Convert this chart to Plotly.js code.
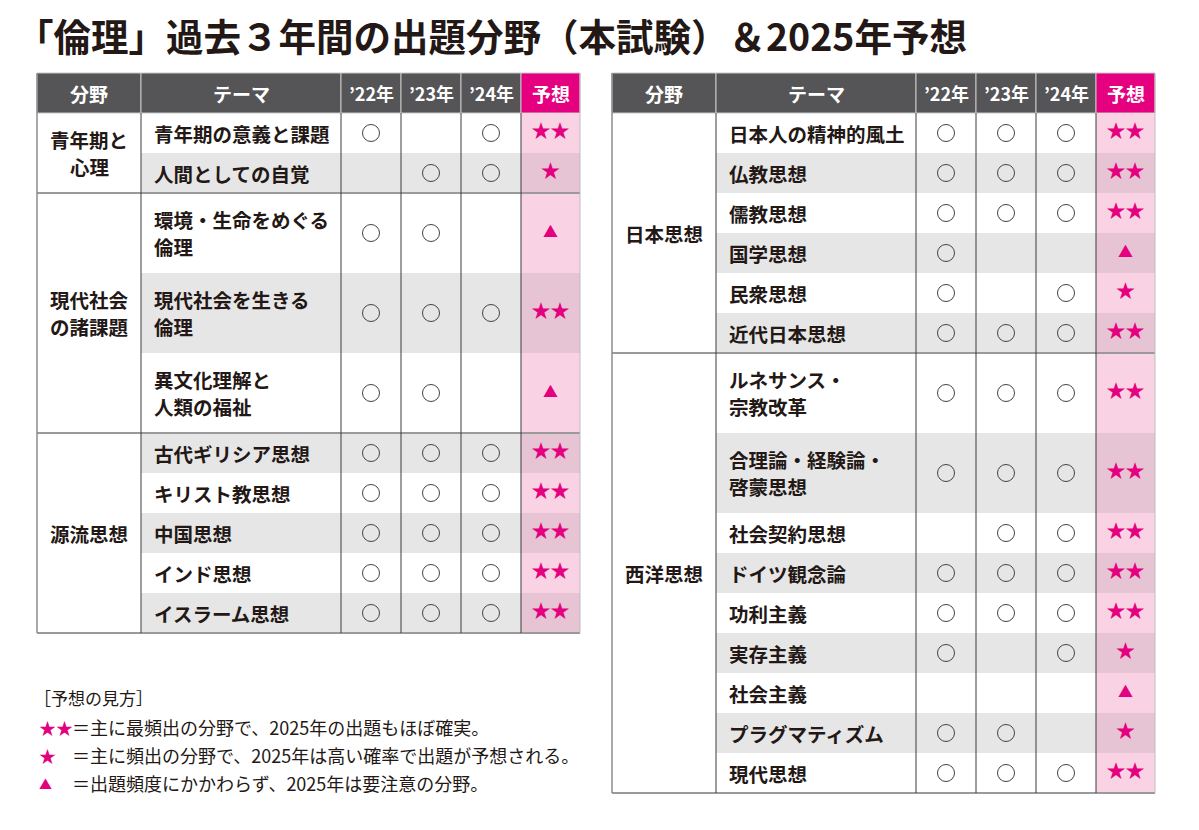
<!DOCTYPE html>
<html>
<head>
<meta charset="utf-8">
<script src="https://cdn.plot.ly/plotly-3.0.1.min.js"></script>
<style>
  html, body { margin: 0; padding: 0; background: #fff; }
  #plot { width: 1199px; height: 830px; }
</style>
</head>
<body>
<div id="plot"></div>
<script>
// --- data ---
const headers = ['分野', 'テーマ', '’22年', '’23年', '’24年', '予想'];

const leftGroups = ['青年期と<br>心理', '現代社会<br>の諸課題', '源流思想'];
const leftThemes = [
	'青年期の意義と課題', '人間としての自覚', '環境・生命をめぐる<br>倫理',
	'現代社会を生きる<br>倫理', '異文化理解と<br>人類の福祉', '古代ギリシア思想',
	'キリスト教思想', '中国思想', 'インド思想', 'イスラーム思想',
];
const leftGroupOf = [0, 0, 1, 1, 1, 2, 2, 2, 2, 2];
const left22 = [1, 0, 1, 1, 1, 1, 1, 1, 1, 1];
const left23 = [0, 1, 1, 1, 1, 1, 1, 1, 1, 1];
const left24 = [1, 1, 0, 1, 0, 1, 1, 1, 1, 1];
const leftForecast = ['★★', '★', '▲', '★★', '▲', '★★', '★★', '★★', '★★', '★★'];

const rightGroups = ['日本思想', '西洋思想'];
const rightThemes = [
	'日本人の精神的風土', '仏教思想', '儒教思想', '国学思想', '民衆思想', '近代日本思想',
	'ルネサンス・<br>宗教改革', '合理論・経験論・<br>啓蒙思想', '社会契約思想', 'ドイツ観念論',
	'功利主義', '実存主義', '社会主義', 'プラグマティズム', '現代思想',
];
const rightGroupOf = [0, 0, 0, 0, 0, 0, 1, 1, 1, 1, 1, 1, 1, 1, 1];
const right22 = [1, 1, 1, 1, 1, 1, 1, 1, 0, 1, 1, 1, 0, 1, 1];
const right23 = [1, 1, 1, 0, 0, 1, 1, 1, 1, 1, 1, 0, 0, 1, 1];
const right24 = [1, 1, 1, 0, 1, 1, 1, 1, 1, 1, 1, 1, 0, 0, 1];
const rightForecast = ['★★', '★★', '★★', '▲', '★', '★★', '★★', '★★', '★★', '★★', '★★', '★', '▲', '★', '★★'];

const legendTitle = '［予想の見方］';
const legendMarks = ['★★', '★', '▲'];
const legendTexts = [
	'＝主に最頻出の分野で、2025年の出題もほぼ確実。',
	'＝主に頻出の分野で、2025年は高い確率で出題が予想される。',
	'＝出題頻度にかかわらず、2025年は要注意の分野。',
];

// --- style ---
const FONT = '"Noto Sans CJK JP", "Noto Sans", sans-serif';
const INK = '#231815';
const MAGENTA = '#e4007f';
const HEAD_BG = '#555456';
const GRAY_ROW = '#e6e6e6';
const PINK = '#f9d3e4';
const PINK_DARK = '#e6c4d4';
const COL_W = [104, 200, 60, 60, 60, 59];
const HEAD_TOP = 73;
const HEAD_H = 40;
const LINE_H = 40;
const TEXT_GAP = 27;

const shapes = [];
const annotations = [];
const traces = [];

// one annotation per text line, stacked round a centre
function addLines(text, x, yMid, xanchor) {
	const lines = text.split('<br>');
	lines.forEach((ln, k) => {
		annotations.push({
			x, y: yMid + (k - (lines.length - 1) / 2) * TEXT_GAP,
			text: '<b>' + ln + '</b>', showarrow: false, xanchor, yanchor: 'middle', borderpad: 0,
			font: {family: FONT, size: 19.5, color: INK},
		});
	});
}

function buildTable(x0, groups, themes, groupOf, y22, y23, y24, forecast) {
	const colX = [x0];
	COL_W.forEach((w) => colX.push(colX[colX.length - 1] + w));
	const colMid = (i) => (colX[i] + colX[i + 1]) / 2;
	const xEnd = colX[colX.length - 1];

	// header
	headers.forEach((h, i) => {
		shapes.push({
			type: 'rect', x0: colX[i], x1: colX[i + 1], y0: HEAD_TOP, y1: HEAD_TOP + HEAD_H,
			fillcolor: i === 5 ? MAGENTA : HEAD_BG, line: {color: '#c8c8c8', width: 1}, layer: 'below',
		});
		annotations.push({
			x: colMid(i), y: HEAD_TOP + HEAD_H / 2, text: '<b>' + h + '</b>', showarrow: false,
			xanchor: 'center', yanchor: 'middle', font: {family: FONT, size: i >= 2 && i <= 4 ? 18 : 19, color: '#fff'},
		});
	});

	// rows
	let y = HEAD_TOP + HEAD_H;
	const rowTop = [];
	const rowMid = [];
	themes.forEach((t, r) => {
		const h = t.split('<br>').length * LINE_H;
		rowTop.push(y);
		rowMid.push(y + h / 2);
		const odd = r % 2 === 1;
		if (odd) {
			shapes.push({
				type: 'rect', x0: colX[1], x1: colX[5], y0: y, y1: y + h,
				fillcolor: GRAY_ROW, line: {width: 0}, layer: 'below',
			});
		}
		shapes.push({
			type: 'rect', x0: colX[5], x1: colX[6], y0: y, y1: y + h,
			fillcolor: odd ? PINK_DARK : PINK, line: {width: 0}, layer: 'below',
		});
		addLines(t, colX[1] + 12, y + h / 2, 'left');
		y += h;
	});
	const yEnd = y;
	rowTop.push(yEnd);

	// group labels and separators
	groups.forEach((g, gi) => {
		const rows = groupOf.map((v, i) => (v === gi ? i : -1)).filter((i) => i >= 0);
		const gTop = rowTop[rows[0]];
		const gBot = rowTop[rows[rows.length - 1] + 1];
		addLines(g, colMid(0), (gTop + gBot) / 2, 'center');
		shapes.push({
			type: 'line', x0: x0, x1: xEnd, y0: gBot, y1: gBot,
			line: {color: '#9a9a9a', width: 2},
		});
	});

	// vertical rules
	for (let i = 1; i <= 5; i++) {
		shapes.push({
			type: 'line', x0: colX[i], x1: colX[i], y0: HEAD_TOP + HEAD_H, y1: yEnd,
			line: {color: '#3c3c3c', width: 1},
		});
	}
	shapes.push({type: 'line', x0: x0, x1: x0, y0: HEAD_TOP, y1: yEnd, line: {color: '#8c8c8c', width: 1.5}});
	shapes.push({type: 'line', x0: xEnd, x1: xEnd, y0: HEAD_TOP, y1: yEnd, line: {color: '#bdbdbd', width: 1}});

	// year circles
	[y22, y23, y24].forEach((arr, c) => {
		const xs = [];
		const ys = [];
		arr.forEach((v, r) => {
			if (v) {
				xs.push(colMid(2 + c));
				ys.push(rowMid[r]);
			}
		});
		traces.push({
			type: 'scatter', mode: 'markers', x: xs, y: ys, hoverinfo: 'none',
			marker: {symbol: 'circle-open', size: 17, color: '#444', line: {width: 1, color: '#444'}},
		});
	});

	// forecast marks
	traces.push({
		type: 'scatter', mode: 'text', hoverinfo: 'none',
		x: forecast.map(() => colMid(5)), y: rowMid, text: forecast,
		textposition: 'middle center',
		textfont: {family: FONT, size: forecast.map((f) => (f === '▲' ? 15 : 19)), color: MAGENTA},
	});
}

buildTable(37, leftGroups, leftThemes, leftGroupOf, left22, left23, left24, leftForecast);
buildTable(612, rightGroups, rightThemes, rightGroupOf, right22, right23, right24, rightForecast);

// legend
annotations.push({
	x: 32, y: 697, text: legendTitle, showarrow: false, xanchor: 'left', yanchor: 'middle',
	font: {family: FONT, size: 17, color: INK},
});
legendMarks.forEach((m, i) => {
	const ly = 727 + i * 28;
	annotations.push({
		x: 37, y: ly, text: m, showarrow: false, xanchor: 'left', yanchor: 'middle',
		font: {family: FONT, size: m === '▲' ? 13 : 17, color: MAGENTA},
	});
	annotations.push({
		x: 70, y: ly, text: legendTexts[i], showarrow: false, xanchor: 'left', yanchor: 'middle',
		font: {family: FONT, size: 18, color: INK},
	});
});

const layout = {
	width: 1199,
	height: 830,
	margin: {l: 0, r: 0, t: 0, b: 0},
	paper_bgcolor: '#fff',
	plot_bgcolor: '#fff',
	showlegend: false,
	title: {
		text: '<b>「倫理」過去３年間の出題分野（本試験）＆2025年予想</b>',
		x: 16 / 1199, xanchor: 'left', xref: 'paper',
		y: 1 - 38 / 830, yanchor: 'middle', yref: 'container',
		font: {family: FONT, size: 37.5, color: INK},
	},
	xaxis: {range: [0, 1199], visible: false, fixedrange: true},
	yaxis: {range: [830, 0], visible: false, fixedrange: true},
	shapes,
	annotations,
};

Plotly.newPlot('plot', traces, layout, {staticPlot: true});
</script>
</body>
</html>
